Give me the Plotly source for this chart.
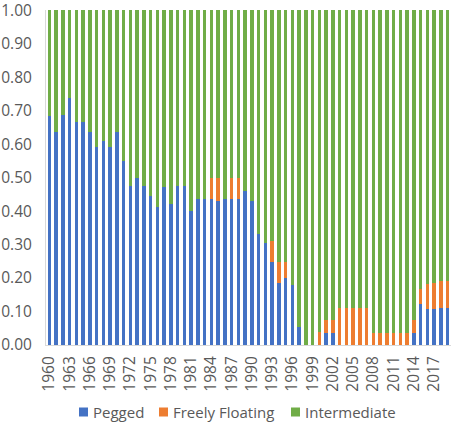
import plotly.graph_objects as go

years = list(range(1960, 2020))

pegged = [
    0.684, 0.637, 0.687, 0.739, 0.667, 0.667, 0.637, 0.591, 0.609, 0.591,  # 1960-1969
    0.637, 0.549, 0.475, 0.500, 0.475, 0.446, 0.412, 0.471, 0.422, 0.475,  # 1970-1979
    0.475, 0.401, 0.436, 0.436, 0.436, 0.430, 0.436, 0.436, 0.436, 0.461,  # 1980-1989
    0.430, 0.333, 0.305, 0.249, 0.186, 0.199, 0.179, 0.055, 0.0, 0.0,      # 1990-1999
    0.0, 0.037, 0.037, 0.0, 0.0, 0.0, 0.0, 0.0, 0.0, 0.0,                 # 2000-2009
    0.0, 0.0, 0.0, 0.0, 0.037, 0.122, 0.109, 0.109, 0.112, 0.112,         # 2010-2019
]

floating = [
    0, 0, 0, 0, 0, 0, 0, 0, 0, 0,                                          # 1960-1969
    0, 0, 0, 0, 0, 0, 0, 0, 0, 0,                                          # 1970-1979
    0, 0, 0, 0, 0.064, 0.070, 0, 0.064, 0.064, 0,                          # 1980-1989
    0, 0, 0, 0.061, 0.063, 0.050, 0, 0, 0, 0,                              # 1990-1999
    0.040, 0.038, 0.038, 0.112, 0.110, 0.110, 0.110, 0.110, 0.035, 0.035,  # 2000-2009
    0.035, 0.035, 0.035, 0.035, 0.038, 0.044, 0.073, 0.075, 0.079, 0.079,  # 2010-2019
]

intermediate = [round(1 - p - f, 3) for p, f in zip(pegged, floating)]

series_names = ["Pegged", "Freely Floating", "Intermediate"]
series_colors = ["#4472C4", "#ED7D31", "#70AD47"]

tick_years = years[::3]
tick_labels = [str(y) for y in tick_years]
y_ticks = [i / 10 for i in range(11)]
y_labels = [f"{v:.2f}" for v in y_ticks]

font_family = "Open Sans"
text_color = "#595959"

W, H = 452, 422
ML, MR, MT, MB = 46, 1, 10, 77

fig = go.Figure()
for name, vals, col in zip(series_names, [pegged, floating, intermediate], series_colors):
    fig.add_trace(go.Bar(x=years, y=vals, name=name, marker_color=col,
                         marker_line_width=0, showlegend=False))

# Legend drawn as squares + text (Excel-style tight legend)
pw = W - ML - MR
ph = H - MT - MB
def px2x(px):
    return (px - ML) / pw
def py2y(py):
    return (H - MB - py) / ph

legend_sq_left = [79, 159, 291]
legend_cy = 412
sq = 9
for name, col, left in zip(series_names, series_colors, legend_sq_left):
    fig.add_shape(type="rect", xref="paper", yref="paper",
                  x0=px2x(left), x1=px2x(left + sq),
                  y0=py2y(legend_cy + sq / 2), y1=py2y(legend_cy - sq / 2),
                  fillcolor=col, line_width=0)
    fig.add_annotation(xref="paper", yref="paper", x=px2x(left + sq + 3), y=py2y(legend_cy),
                       xanchor="left", yanchor="middle", text=name, showarrow=False,
                       font=dict(family=font_family, size=15, color=text_color))

fig.update_layout(
    width=W,
    height=H,
    barmode="stack",
    bargap=0.5,
    plot_bgcolor="white",
    paper_bgcolor="white",
    margin=dict(l=ML, r=MR, t=MT, b=MB),
    font=dict(family=font_family, size=15, color=text_color),
    showlegend=False,
    xaxis=dict(
        range=[1959.5, 2019.5],
        tickmode="array",
        tickvals=tick_years,
        ticktext=tick_labels,
        tickangle=-90,
        showgrid=False,
        showline=True,
        linecolor="#D9D9D9",
        linewidth=1,
        ticks="",
        automargin=False,
        ticklabelstandoff=4,
        tickfont=dict(size=15.5, color=text_color),
    ),
    yaxis=dict(
        range=[0, 1.0005],
        tickmode="array",
        tickvals=y_ticks,
        ticktext=y_labels,
        showgrid=False,
        zeroline=False,
        showline=True,
        linecolor="#D9D9D9",
        linewidth=1,
        ticks="",
        automargin=False,
        ticklabelstandoff=10,
        ticklabeloverflow="allow",
        tickfont=dict(size=15.5, color=text_color),
    ),
)

fig.write_html(
    "out.html",
    config={"displayModeBar": False},
    post_script="document.body.style.margin='0';document.body.style.overflow='hidden';",
)
